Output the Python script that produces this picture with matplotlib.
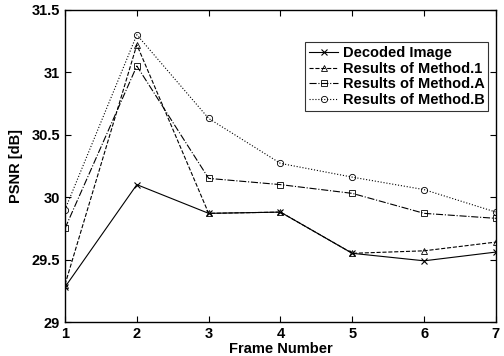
import matplotlib
matplotlib.use("Agg")
import matplotlib.pyplot as plt

frames = [1, 2, 3, 4, 5, 6, 7]
decoded = [29.28, 30.10, 29.87, 29.88, 29.55, 29.49, 29.56]
method_1 = [29.30, 31.22, 29.87, 29.88, 29.55, 29.57, 29.64]
method_a = [29.75, 31.05, 30.15, 30.10, 30.03, 29.87, 29.83]
method_b = [29.90, 31.30, 30.63, 30.27, 30.16, 30.06, 29.88]

plt.rcParams["font.family"] = ["Liberation Sans", "DejaVu Sans"]
plt.rcParams["font.weight"] = "bold"

fig = plt.figure(figsize=(5.04, 3.56), dpi=100)
ax = fig.add_axes([0.129, 0.0955, 0.855, 0.877])

lw = 0.8
ms = 4.5
ax.plot(frames, decoded, color="black", linestyle="-", marker="x", lw=lw,
        ms=ms, mew=0.8, label="Decoded Image")
ax.plot(frames, method_1, color="black", linestyle="--", marker="^", lw=lw,
        ms=ms, mew=0.6, mfc="none", label="Results of Method.1")
ax.plot(frames, method_a, color="black", linestyle="-.", marker="s", lw=lw,
        ms=ms, mew=0.6, mfc="none", label="Results of Method.A")
ax.plot(frames, method_b, color="black", linestyle=":", marker="o", lw=lw,
        ms=ms, mew=0.6, mfc="none", label="Results of Method.B")

ax.set_xlim(1, 7)
ax.set_ylim(29, 31.5)
ax.set_xticks(frames)
ax.set_yticks([29, 29.5, 30, 30.5, 31, 31.5])
ax.set_yticklabels(["29", "29.5", "30", "30.5", "31", "31.5"])
ax.tick_params(direction="in", top=True, right=True, length=4, width=0.8,
               labelsize=10.5)
for lab in ax.get_xticklabels() + ax.get_yticklabels():
    lab.set_fontweight("bold")
for sp in ax.spines.values():
    sp.set_linewidth(1.0)

ax.set_xlabel("Frame Number", fontsize=10.5, fontweight="bold", labelpad=1)
ax.set_ylabel("PSNR [dB]", fontsize=10.5, fontweight="bold", labelpad=6)

leg = ax.legend(loc="upper right", bbox_to_anchor=(0.982, 0.896),
                fontsize=10.5, frameon=True, fancybox=False,
                edgecolor="black", handlelength=2.0, handletextpad=0.3,
                borderpad=0.25, labelspacing=0.12, borderaxespad=0)
leg.get_frame().set_linewidth(0.8)
for t in leg.get_texts():
    t.set_fontweight("bold")

fig.savefig("out.png", dpi=100)
